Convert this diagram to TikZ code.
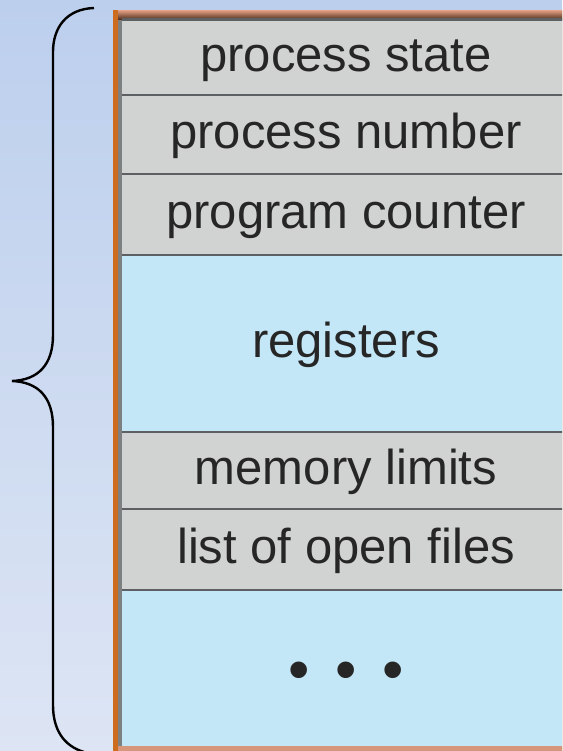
\documentclass[tikz,border=0pt]{standalone}
\usepackage{fontspec}
\setmainfont{Liberation Sans}
\usepackage{tikz}
\usetikzlibrary{positioning, calc}
\usepackage{xcolor}
\definecolor{slidetop}{RGB}{188, 207, 237}
\definecolor{slidebot}{RGB}{221, 229, 244}
\definecolor{pcbgray}{RGB}{209, 211, 211}
\definecolor{pcbblue}{RGB}{196, 231, 248}
\definecolor{pcborange}{RGB}{205, 108, 30}
\definecolor{pcbsalmon}{RGB}{214, 150, 124}
\definecolor{pcbbrown}{RGB}{70, 40, 20}
\definecolor{pcbline}{RGB}{92, 96, 98}

\begin{document}
\begin{tikzpicture}[x=1pt, y=-1pt,
    field/.style={inner sep=0pt, outer sep=0pt, minimum width=448pt,
                  font=\fontsize{49}{52}\selectfont, text=black!85,
                  text height=36pt, text depth=8pt},
    grayfield/.style={field, fill=pcbgray},
    bluefield/.style={field, fill=pcbblue},
    sepline/.style={pcbline, line width=2.5pt},
    brace/.style={black, line width=2.4pt}]
  \useasboundingbox (0,0) rectangle (562,751);
  \clip (0,0) rectangle (562,751);
  \shade[top color=slidetop, bottom color=slidebot] (0,0) rectangle (562,751);

  % frame of the block
  \fill[pcborange] (113,10) rectangle (575,751);
  \shade[top color=pcbsalmon, bottom color=pcbbrown] (118,11) rectangle (575,20);
  \fill[pcbsalmon] (118,746) rectangle (575,751);

  % the fields
  \node[grayfield, anchor=north west, minimum height=75pt] (state) at (122,20) {process state};
  \node[grayfield, below=0pt of state, minimum height=79pt] (number) {process number};
  \node[grayfield, below=0pt of number, minimum height=81pt] (counter) {program counter};
  \node[bluefield, below=0pt of counter, minimum height=177pt] (registers) {registers};
  \node[grayfield, below=0pt of registers, minimum height=77pt] (memory) {memory limits};
  \node[grayfield, below=0pt of memory, minimum height=81pt] (files) {list of open files};
  \node[bluefield, below=0pt of files, minimum height=156pt, text height=0pt, text depth=0pt,
        font=\fontsize{61}{61}\selectfont] (more) {\raisebox{-22pt}{•\kern25.5pt•\kern25.5pt•}};

  \foreach \row in {state, number, counter, registers, memory, files}
    \draw[sepline] (\row.south west) -- (\row.south east);
  \draw[pcbline, line width=3pt] (state.north west) -- (state.north east);
  \draw[pcbline!80, line width=4pt] ($(state.north west)+(-2,0)$) -- ($(more.south west)+(-2,0)$);

  % brace on the left
  \draw[brace] (94,8) .. controls (66,9) and (53,28) .. (53,52)
    -- (53,335) .. controls (53,365) and (38,380) .. (12,381)
    .. controls (38,382) and (53,397) .. (53,427)
    -- (53,705) .. controls (53,730) and (64,746) .. (84,752);
\end{tikzpicture}
\end{document}
